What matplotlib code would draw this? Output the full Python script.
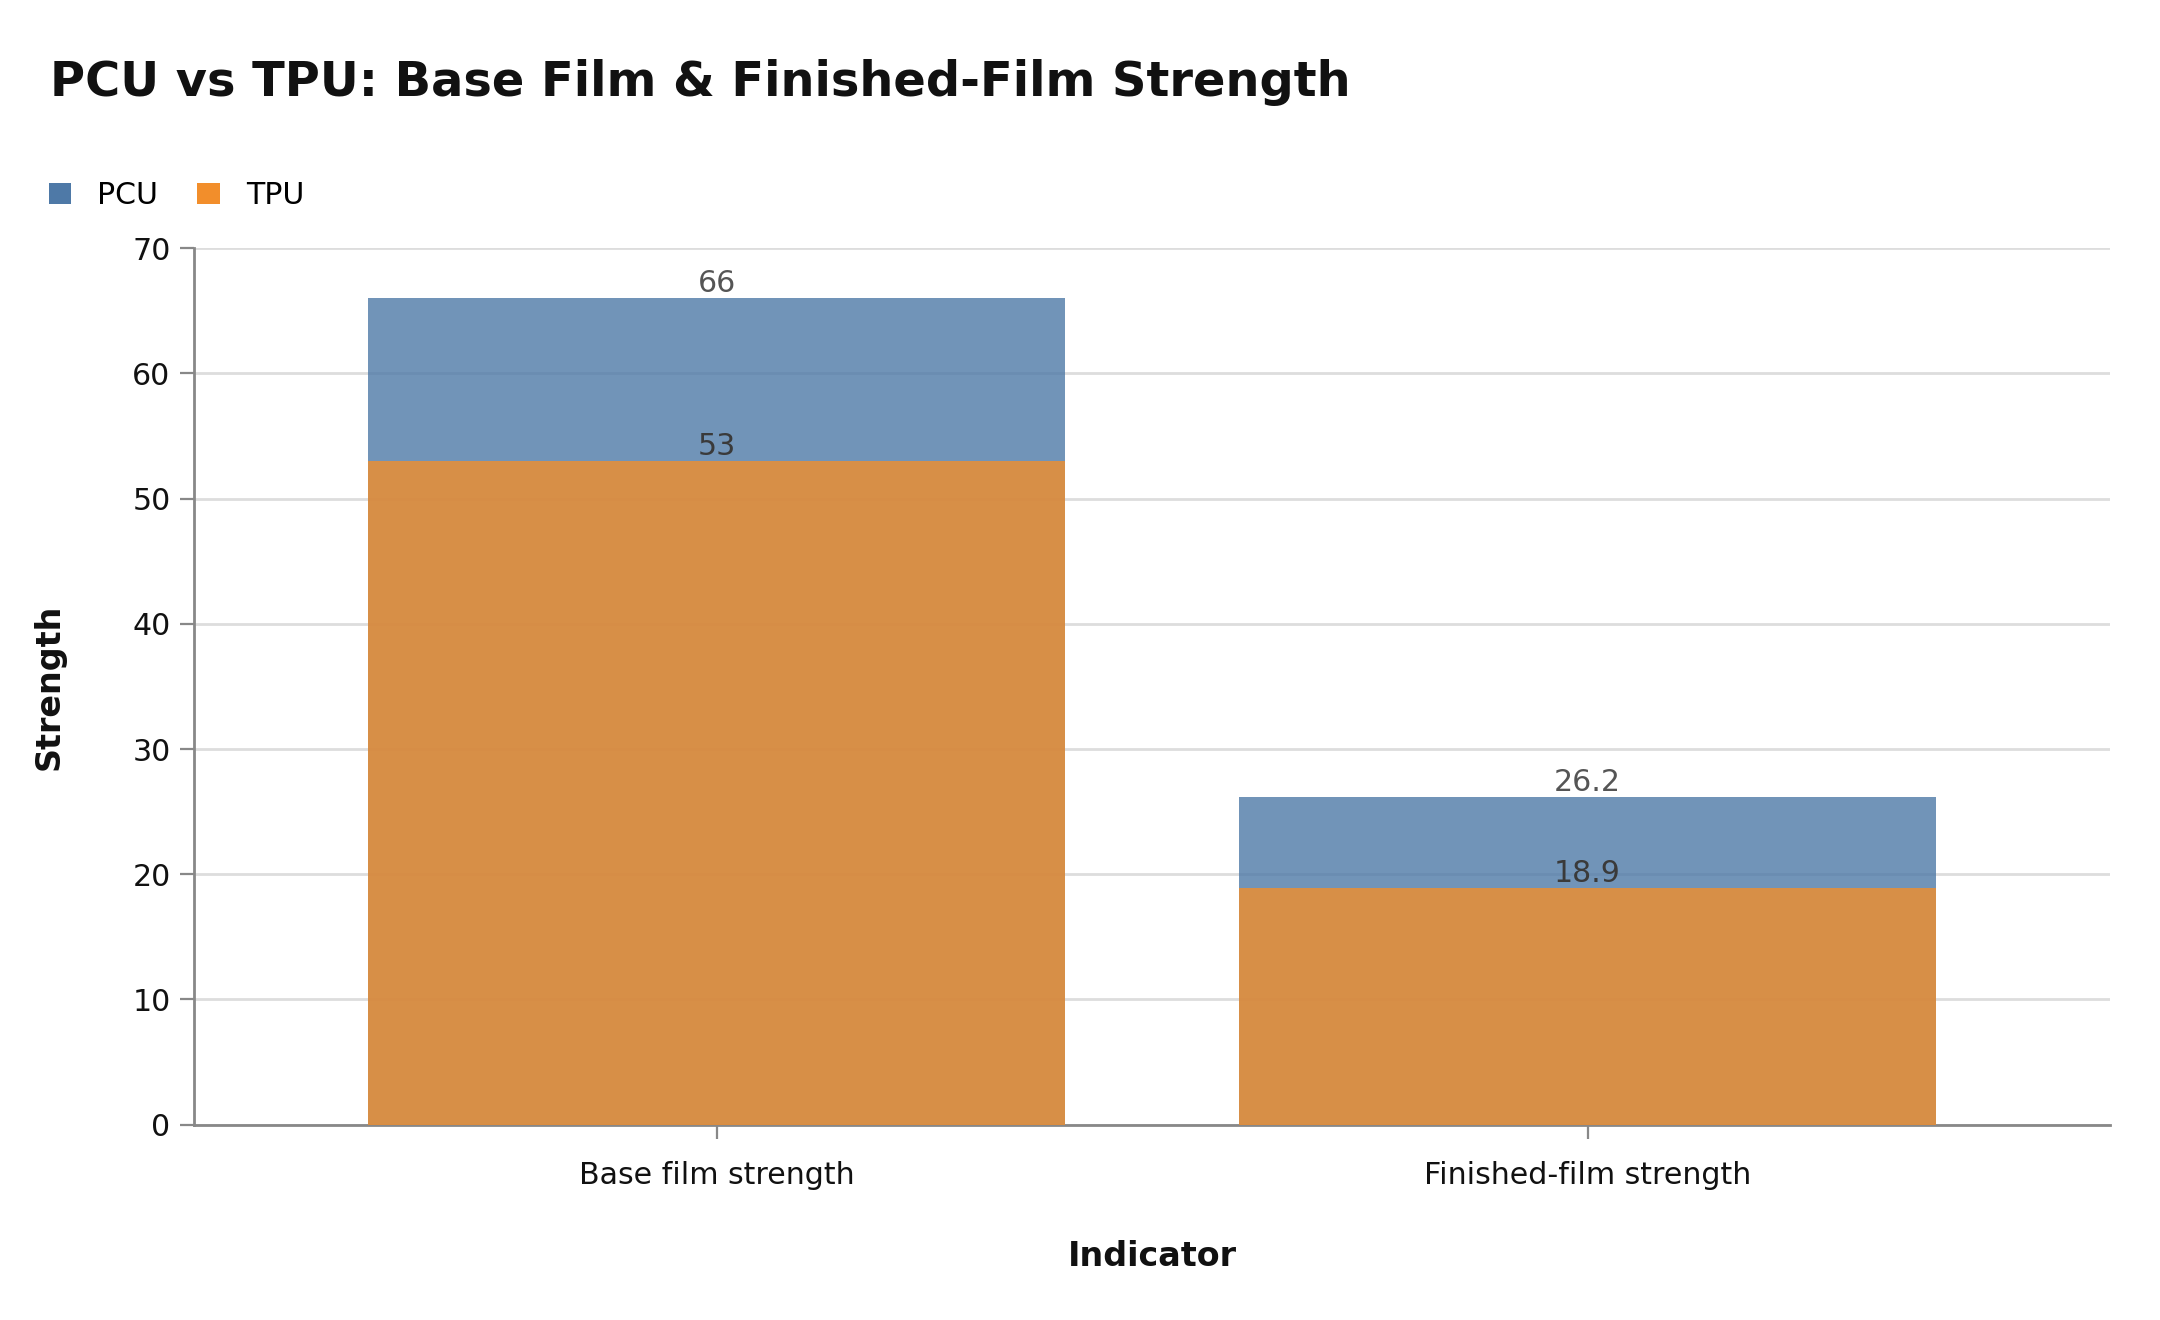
import numpy as np
import matplotlib
matplotlib.use('Agg')
import matplotlib.pyplot as plt

indicators = ['Base film strength', 'Finished-film strength']
pcu = [66, 26.2]
tpu = [53, 18.9]
pcu_labels = ['66', '26.2']
tpu_labels = ['53', '18.9']

blue = '#4e79a7'
orange = '#f28e2b'
axis_gray = '#888888'

plt.rcParams['font.family'] = ['DejaVu Sans']

fig = plt.figure(figsize=(10.8, 6.6), dpi=200)
ax = fig.add_axes([0.0899, 0.148, 0.887, 0.664])

x = np.arange(len(indicators))
ax.bar(x, pcu, width=0.8, color=blue, alpha=0.8, label='PCU', zorder=2)
ax.bar(x, tpu, width=0.8, color=orange, alpha=0.8, label='TPU', zorder=3)

for xi, v, s in zip(x, pcu, pcu_labels):
    ax.text(xi, v, s, ha='center', va='bottom', fontsize=10.8, color='#555555', zorder=5)
for xi, v, s in zip(x, tpu, tpu_labels):
    ax.text(xi, v, s, ha='center', va='bottom', fontsize=10.8, color='#3a3a3a', zorder=5)

ax.set_xlim(-0.6, 1.6)
ax.set_ylim(0, 70)
ax.set_yticks(range(0, 71, 10))
ax.set_xticks(x)
ax.set_xticklabels(indicators)

ax.grid(axis='y', color='#dddddd', linewidth=1.0, zorder=0)
ax.set_axisbelow(True)
for side in ['top', 'right']:
    ax.spines[side].set_visible(False)
for side in ['left', 'bottom']:
    ax.spines[side].set_color(axis_gray)
    ax.spines[side].set_linewidth(1.0)
ax.tick_params(axis='both', colors=axis_gray, labelcolor='#111111', labelsize=10.8, length=5)
ax.tick_params(axis='x', pad=8)

ax.set_xlabel('Indicator', fontsize=12, fontweight='bold', color='#111111', labelpad=18)
ax.set_ylabel('Strength', fontsize=12, fontweight='bold', color='#111111', labelpad=24)

fig.text(0.023, 0.927, 'PCU vs TPU: Base Film & Finished-Film Strength',
         fontsize=17.25, fontweight='bold', color='#111111', ha='left', va='baseline')

handles, labels = ax.get_legend_handles_labels()
leg = fig.legend(handles, labels, loc='upper left', bbox_to_anchor=(0.017, 0.872),
                 ncol=2, frameon=False, fontsize=10.8, handlelength=0.75, handleheight=0.75,
                 handletextpad=0.87, columnspacing=1.3, borderaxespad=0)
for h in leg.legend_handles:
    h.set_alpha(1.0)

fig.savefig('out.png', dpi=200)
